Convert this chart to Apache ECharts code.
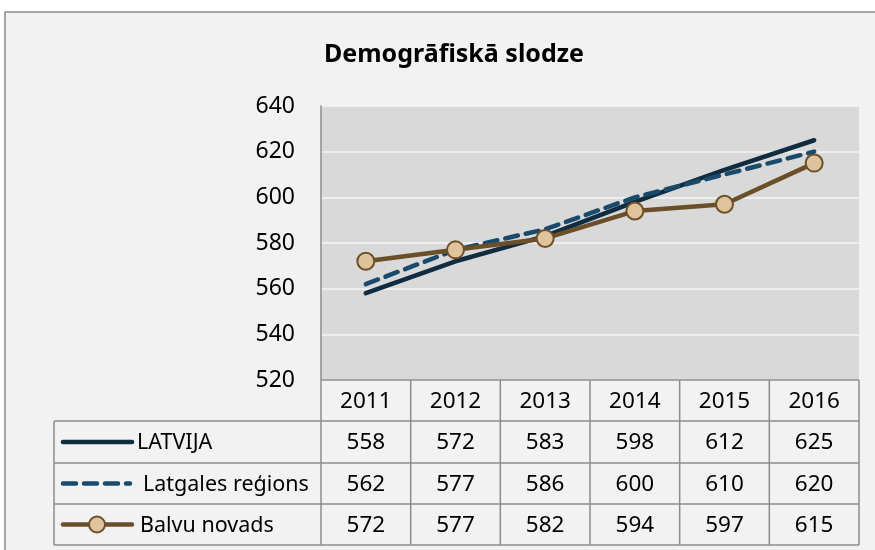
<!DOCTYPE html>
<html>
<head>
<meta charset="utf-8">
<script src="https://cdn.jsdelivr.net/npm/echarts@6/dist/echarts.min.js"></script>
<style>
  html, body { margin: 0; padding: 0; background: #fff; }
  #chart { width: 875px; height: 550px; }
</style>
</head>
<body>
<div id="chart"></div>
<script>
const years = ['2011', '2012', '2013', '2014', '2015', '2016'];
const latvija = [558, 572, 583, 598, 612, 625];
const latgale = [562, 577, 586, 600, 610, 620];
const balvi = [572, 577, 582, 594, 597, 615];
const seriesNames = ['LATVIJA', 'Latgales reģions', 'Balvu novads'];
const yTicks = [520, 540, 560, 580, 600, 620, 640];

const FONT = '"Noto Sans", sans-serif';
const gridLine = '#8c8c8c';
const colors = { lat: '#0f2c40', latg: '#1a4a6b', balv: '#6b4f28', balvFill: '#dfc39b' };

const chart = echarts.init(document.getElementById('chart'));

const option = {
  backgroundColor: '#fff',
  animation: false,
  title: {
    text: 'Demogrāfiskā slodze',
    left: 449, top: 37, textAlign: 'center',
    textStyle: { fontFamily: FONT, fontSize: 25, fontWeight: 'bold', color: '#000' }
  },
  grid: {
    left: 321, right: 16, top: 106, bottom: 170,
    show: true, backgroundColor: '#d9d9d9', borderWidth: 0
  },
  xAxis: {
    type: 'category',
    data: years,
    boundaryGap: true,
    axisLine: { show: false },
    axisTick: { show: false },
    axisLabel: { show: false }
  },
  yAxis: {
    type: 'value',
    min: yTicks[0], max: yTicks[yTicks.length - 1], interval: 20,
    axisLine: { show: true, lineStyle: { color: gridLine, width: 1.5 } },
    axisTick: { show: false },
    axisLabel: { margin: 26, fontFamily: FONT, fontSize: 23, color: '#000' },
    splitLine: { lineStyle: { color: '#f5f5f5', width: 1.5 } }
  },
  series: [
    {
      name: seriesNames[0], type: 'line', data: latvija,
      symbol: 'none', lineStyle: { color: colors.lat, width: 4.5, cap: 'round' }
    },
    {
      name: seriesNames[1], type: 'line', data: latgale,
      symbol: 'none', lineStyle: { color: colors.latg, width: 4.5, type: [13, 8], cap: 'round' }
    },
    {
      name: seriesNames[2], type: 'line', data: balvi,
      symbol: 'circle', symbolSize: 17,
      lineStyle: { color: colors.balv, width: 4.5 },
      itemStyle: { color: colors.balvFill, borderColor: colors.balv, borderWidth: 2 }
    }
  ]
};
chart.setOption(option);

// data table under the plot, aligned to the category axis
const centers = years.map((y, i) => chart.convertToPixel({ xAxisIndex: 0 }, i));
const band = centers[1] - centers[0];
const xL = centers[0] - band / 2;
const xR = centers[centers.length - 1] + band / 2;
const tableLeft = 54;
const rowY = [380, 421, 463, 504, 545];
const rowsData = [latvija, latgale, balvi];

const g = [];
// outer frame of the chart area
g.push({ type: 'rect', shape: { x: 5, y: 12, width: 900, height: 600 },
  style: { fill: '#f2f2f2', stroke: '#8a8a8a', lineWidth: 1.5 }, z: -10, silent: true });

const line = (x1, y1, x2, y2) => g.push({ type: 'line', shape: { x1, y1, x2, y2 },
  style: { stroke: gridLine, lineWidth: 1.5 }, z: 5 });
// horizontal lines
line(xL, rowY[0], xR, rowY[0]);
line(tableLeft, rowY[1], xR, rowY[1]);
line(tableLeft, rowY[2], xR, rowY[2]);
line(tableLeft, rowY[3], xR, rowY[3]);
line(tableLeft, rowY[4], xR, rowY[4]);
// vertical lines
line(tableLeft, rowY[1], tableLeft, rowY[4]);
for (let i = 0; i <= years.length; i++) {
  const x = xL + i * band;
  line(x, rowY[0], x, rowY[4]);
}
const txt = (text, x, y, size, align) => g.push({ type: 'text', x, y, z: 6,
  style: { text, fill: '#000', font: size + 'px ' + FONT, textAlign: align || 'center', textVerticalAlign: 'middle' } });
years.forEach((y, i) => txt(y, centers[i], (rowY[0] + rowY[1]) / 2 + 1, 22.5));
rowsData.forEach((arr, r) => {
  const cy = (rowY[r + 1] + rowY[r + 2]) / 2 + 1;
  arr.forEach((v, i) => txt(String(v), centers[i], cy, 22.5));
});
// legend keys
const ky = r => (rowY[r + 1] + rowY[r + 2]) / 2;
g.push({ type: 'line', shape: { x1: 63, y1: ky(0), x2: 132, y2: ky(0) },
  style: { stroke: colors.lat, lineWidth: 4.5, lineCap: 'round' }, z: 6 });
g.push({ type: 'line', shape: { x1: 63, y1: ky(1), x2: 130, y2: ky(1) },
  style: { stroke: colors.latg, lineWidth: 4.5, lineCap: 'round', lineDash: [13, 8] }, z: 6 });
g.push({ type: 'line', shape: { x1: 63, y1: ky(2), x2: 132, y2: ky(2) },
  style: { stroke: colors.balv, lineWidth: 4.5, lineCap: 'round' }, z: 6 });
g.push({ type: 'circle', shape: { cx: 97, cy: ky(2), r: 8 },
  style: { fill: colors.balvFill, stroke: colors.balv, lineWidth: 2 }, z: 7 });
txt(seriesNames[0], 137, ky(0) + 1, 21.5, 'left');
txt(seriesNames[1], 143, ky(1) + 1, 21.5, 'left');
txt(seriesNames[2], 140, ky(2) + 1, 21.5, 'left');

chart.setOption({ graphic: g });
</script>
</body>
</html>
